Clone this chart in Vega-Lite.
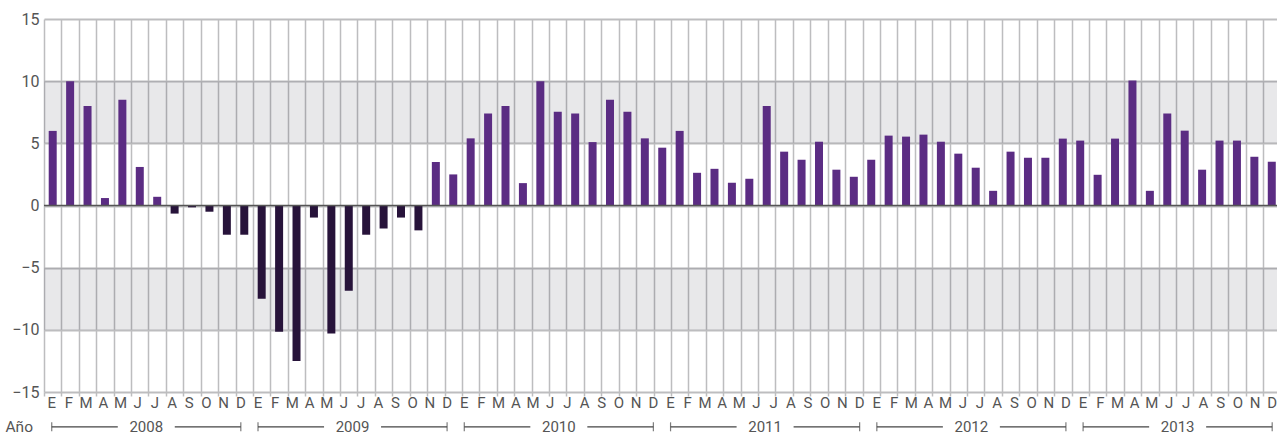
{
  "$schema": "https://vega.github.io/schema/vega-lite/v6.json",
  "autosize": {"type": "none"},
  "padding": {"left": 44, "top": 19, "right": 0, "bottom": 43},
  "width": 1233,
  "height": 373,
  "background": "white",
  "config": {
    "view": {"stroke": null},
    "font": "Roboto",
    "axis": {"labelFont": "Roboto", "titleFont": "Roboto"}
  },
  "layer": [
    {
      "data": {"values": [
        {"i": 0, "fecha": "2008-01", "v": 6.0}, {"i": 1, "fecha": "2008-02", "v": 10.0}, {"i": 2, "fecha": "2008-03", "v": 8.0},
        {"i": 3, "fecha": "2008-04", "v": 0.6}, {"i": 4, "fecha": "2008-05", "v": 8.5}, {"i": 5, "fecha": "2008-06", "v": 3.1},
        {"i": 6, "fecha": "2008-07", "v": 0.7}, {"i": 7, "fecha": "2008-08", "v": -0.65}, {"i": 8, "fecha": "2008-09", "v": -0.15},
        {"i": 9, "fecha": "2008-10", "v": -0.5}, {"i": 10, "fecha": "2008-11", "v": -2.35}, {"i": 11, "fecha": "2008-12", "v": -2.35},
        {"i": 12, "fecha": "2009-01", "v": -7.5}, {"i": 13, "fecha": "2009-02", "v": -10.15}, {"i": 14, "fecha": "2009-03", "v": -12.5},
        {"i": 15, "fecha": "2009-04", "v": -0.97}, {"i": 16, "fecha": "2009-05", "v": -10.3}, {"i": 17, "fecha": "2009-06", "v": -6.85},
        {"i": 18, "fecha": "2009-07", "v": -2.35}, {"i": 19, "fecha": "2009-08", "v": -1.85}, {"i": 20, "fecha": "2009-09", "v": -0.97},
        {"i": 21, "fecha": "2009-10", "v": -2.0}, {"i": 22, "fecha": "2009-11", "v": 3.5}, {"i": 23, "fecha": "2009-12", "v": 2.5},
        {"i": 24, "fecha": "2010-01", "v": 5.4}, {"i": 25, "fecha": "2010-02", "v": 7.4}, {"i": 26, "fecha": "2010-03", "v": 8.0},
        {"i": 27, "fecha": "2010-04", "v": 1.8}, {"i": 28, "fecha": "2010-05", "v": 10.0}, {"i": 29, "fecha": "2010-06", "v": 7.55},
        {"i": 30, "fecha": "2010-07", "v": 7.4}, {"i": 31, "fecha": "2010-08", "v": 5.1}, {"i": 32, "fecha": "2010-09", "v": 8.5},
        {"i": 33, "fecha": "2010-10", "v": 7.55}, {"i": 34, "fecha": "2010-11", "v": 5.4}, {"i": 35, "fecha": "2010-12", "v": 4.65},
        {"i": 36, "fecha": "2011-01", "v": 6.0}, {"i": 37, "fecha": "2011-02", "v": 2.63}, {"i": 38, "fecha": "2011-03", "v": 2.95},
        {"i": 39, "fecha": "2011-04", "v": 1.83}, {"i": 40, "fecha": "2011-05", "v": 2.15}, {"i": 41, "fecha": "2011-06", "v": 8.0},
        {"i": 42, "fecha": "2011-07", "v": 4.33}, {"i": 43, "fecha": "2011-08", "v": 3.68}, {"i": 44, "fecha": "2011-09", "v": 5.13},
        {"i": 45, "fecha": "2011-10", "v": 2.88}, {"i": 46, "fecha": "2011-11", "v": 2.31}, {"i": 47, "fecha": "2011-12", "v": 3.68},
        {"i": 48, "fecha": "2012-01", "v": 5.62}, {"i": 49, "fecha": "2012-02", "v": 5.54}, {"i": 50, "fecha": "2012-03", "v": 5.7},
        {"i": 51, "fecha": "2012-04", "v": 5.13}, {"i": 52, "fecha": "2012-05", "v": 4.17}, {"i": 53, "fecha": "2012-06", "v": 3.04},
        {"i": 54, "fecha": "2012-07", "v": 1.18}, {"i": 55, "fecha": "2012-08", "v": 4.33}, {"i": 56, "fecha": "2012-09", "v": 3.84},
        {"i": 57, "fecha": "2012-10", "v": 3.84}, {"i": 58, "fecha": "2012-11", "v": 5.38}, {"i": 59, "fecha": "2012-12", "v": 5.22},
        {"i": 60, "fecha": "2013-01", "v": 2.47}, {"i": 61, "fecha": "2013-02", "v": 5.38}, {"i": 62, "fecha": "2013-03", "v": 10.05},
        {"i": 63, "fecha": "2013-04", "v": 1.18}, {"i": 64, "fecha": "2013-05", "v": 7.39}, {"i": 65, "fecha": "2013-06", "v": 6.02},
        {"i": 66, "fecha": "2013-07", "v": 2.88}, {"i": 67, "fecha": "2013-08", "v": 5.22}, {"i": 68, "fecha": "2013-09", "v": 5.22},
        {"i": 69, "fecha": "2013-10", "v": 3.92}, {"i": 70, "fecha": "2013-11", "v": 3.52}
      ]},
      "layer": [
        {
          "data": {"values": [{}]},
          "mark": {"type": "rect", "fill": "#0a0f1e", "opacity": 0.095},
          "encoding": {"y": {"datum": 5, "type": "quantitative"}, "y2": {"datum": 10}}
        },
        {
          "data": {"values": [{}]},
          "mark": {"type": "rect", "fill": "#0a0f1e", "opacity": 0.095},
          "encoding": {"y": {"datum": -10, "type": "quantitative"}, "y2": {"datum": -5}}
        },
        {
          "mark": {"type": "bar", "width": 8},
          "encoding": {
            "x": {
              "field": "i", "type": "quantitative",
              "scale": {"domain": [-0.5, 70.3], "nice": false, "zero": false, "padding": 0},
              "axis": {
                "orient": "bottom", "title": null, "labels": false, "domain": false,
                "ticks": true, "tickSize": 4, "tickColor": "#bdbdbf", "tickWidth": 1.5,
                "grid": true, "gridColor": "#bdbdbf", "gridWidth": 1.5,
                "values": [-0.5,0.5,1.5,2.5,3.5,4.5,5.5,6.5,7.5,8.5,9.5,10.5,11.5,12.5,13.5,14.5,15.5,16.5,17.5,18.5,19.5,20.5,21.5,22.5,23.5,24.5,25.5,26.5,27.5,28.5,29.5,30.5,31.5,32.5,33.5,34.5,35.5,36.5,37.5,38.5,39.5,40.5,41.5,42.5,43.5,44.5,45.5,46.5,47.5,48.5,49.5,50.5,51.5,52.5,53.5,54.5,55.5,56.5,57.5,58.5,59.5,60.5,61.5,62.5,63.5,64.5,65.5,66.5,67.5,68.5,69.5]
              }
            },
            "y": {
              "field": "v", "type": "quantitative",
              "scale": {"domain": [-15, 15], "nice": false},
              "axis": {
                "title": null, "values": [-15,-10,-5,0,5,10,15],
                "labelFontSize": 16, "labelColor": "#555555", "labelPadding": 5,
                "ticks": false, "domain": false,
                "grid": true, "gridColor": "#bdbdbf", "gridWidth": 2
              }
            },
            "y2": {"datum": 0},
            "color": {"condition": {"test": "datum.v < 0", "value": "#27133a"}, "value": "#5b2c83"}
          }
        },
        {
          "data": {"values": [{}]},
          "mark": {"type": "rule", "color": "#555555", "strokeWidth": 1.5},
          "encoding": {"y": {"datum": 0, "type": "quantitative"}}
        }
      ]
    },
    {
      "data": {"values": [
        {"anio": "2008", "ini": 0, "fin": 11, "centro": 5.5},
        {"anio": "2009", "ini": 12, "fin": 23, "centro": 17.5},
        {"anio": "2010", "ini": 24, "fin": 35, "centro": 29.5},
        {"anio": "2011", "ini": 36, "fin": 47, "centro": 41.5},
        {"anio": "2012", "ini": 48, "fin": 59, "centro": 53.5},
        {"anio": "2013", "ini": 60, "fin": 71, "centro": 65.5}
      ]},
      "layer": [
        {
          "mark": {"type": "rule", "color": "#444444", "strokeWidth": 1.2},
          "encoding": {
            "x": {
              "field": "ini", "type": "quantitative",
              "scale": {"domain": [-0.45, 71.28], "nice": false, "zero": false, "padding": 0},
              "axis": {
                "orient": "bottom", "labels": false, "ticks": false, "domain": false, "grid": false,
                "title": "Año", "titleAngle": 0, "titleAlign": "left", "titleBaseline": "middle", "titleAnchor": "start",
                "titleX": -39, "titleY": 34.5, "titleFontSize": 15.5, "titleFontWeight": "normal", "titleColor": "#555555"
              }
            },
            "x2": {"field": "fin"},
            "y": {"datum": -17.8, "type": "quantitative"}
          }
        },
        {
          "mark": {"type": "bar", "width": 57, "color": "white"},
          "encoding": {
            "x": {"field": "centro", "type": "quantitative"},
            "y": {"datum": -17.3, "type": "quantitative"},
            "y2": {"datum": -18.3}
          }
        },
        {
          "mark": {"type": "tick", "orient": "vertical", "size": 9, "thickness": 1.2, "color": "#444444"},
          "encoding": {
            "x": {"field": "ini", "type": "quantitative"},
            "y": {"datum": -17.8, "type": "quantitative"}
          }
        },
        {
          "mark": {"type": "tick", "orient": "vertical", "size": 9, "thickness": 1.2, "color": "#444444"},
          "encoding": {
            "x": {"field": "fin", "type": "quantitative"},
            "y": {"datum": -17.8, "type": "quantitative"}
          }
        },
        {
          "mark": {"type": "text", "fontSize": 15, "color": "#555555", "baseline": "middle", "align": "center"},
          "encoding": {
            "x": {"field": "centro", "type": "quantitative"},
            "y": {"datum": -17.8, "type": "quantitative"},
            "text": {"field": "anio"}
          }
        },
        {
          "data": {"values": [
            {"n": 0, "mes": "E"}, {"n": 1, "mes": "F"}, {"n": 2, "mes": "M"}, {"n": 3, "mes": "A"}, {"n": 4, "mes": "M"}, {"n": 5, "mes": "J"},
            {"n": 6, "mes": "J"}, {"n": 7, "mes": "A"}, {"n": 8, "mes": "S"}, {"n": 9, "mes": "O"}, {"n": 10, "mes": "N"}, {"n": 11, "mes": "D"},
            {"n": 12, "mes": "E"}, {"n": 13, "mes": "F"}, {"n": 14, "mes": "M"}, {"n": 15, "mes": "A"}, {"n": 16, "mes": "M"}, {"n": 17, "mes": "J"},
            {"n": 18, "mes": "J"}, {"n": 19, "mes": "A"}, {"n": 20, "mes": "S"}, {"n": 21, "mes": "O"}, {"n": 22, "mes": "N"}, {"n": 23, "mes": "D"},
            {"n": 24, "mes": "E"}, {"n": 25, "mes": "F"}, {"n": 26, "mes": "M"}, {"n": 27, "mes": "A"}, {"n": 28, "mes": "M"}, {"n": 29, "mes": "J"},
            {"n": 30, "mes": "J"}, {"n": 31, "mes": "A"}, {"n": 32, "mes": "S"}, {"n": 33, "mes": "O"}, {"n": 34, "mes": "N"}, {"n": 35, "mes": "D"},
            {"n": 36, "mes": "E"}, {"n": 37, "mes": "F"}, {"n": 38, "mes": "M"}, {"n": 39, "mes": "A"}, {"n": 40, "mes": "M"}, {"n": 41, "mes": "J"},
            {"n": 42, "mes": "J"}, {"n": 43, "mes": "A"}, {"n": 44, "mes": "S"}, {"n": 45, "mes": "O"}, {"n": 46, "mes": "N"}, {"n": 47, "mes": "D"},
            {"n": 48, "mes": "E"}, {"n": 49, "mes": "F"}, {"n": 50, "mes": "M"}, {"n": 51, "mes": "A"}, {"n": 52, "mes": "M"}, {"n": 53, "mes": "J"},
            {"n": 54, "mes": "J"}, {"n": 55, "mes": "A"}, {"n": 56, "mes": "S"}, {"n": 57, "mes": "O"}, {"n": 58, "mes": "N"}, {"n": 59, "mes": "D"},
            {"n": 60, "mes": "E"}, {"n": 61, "mes": "F"}, {"n": 62, "mes": "M"}, {"n": 63, "mes": "A"}, {"n": 64, "mes": "M"}, {"n": 65, "mes": "J"},
            {"n": 66, "mes": "J"}, {"n": 67, "mes": "A"}, {"n": 68, "mes": "S"}, {"n": 69, "mes": "O"}, {"n": 70, "mes": "N"}, {"n": 71, "mes": "D"}
          ]},
          "mark": {"type": "text", "fontSize": 15, "color": "#555555", "baseline": "middle", "align": "center"},
          "encoding": {
            "x": {"field": "n", "type": "quantitative"},
            "y": {"datum": -15.9, "type": "quantitative"},
            "text": {"field": "mes"}
          }
        }
      ]
    }
  ],
  "resolve": {"scale": {"x": "independent"}, "axis": {"x": "independent"}}
}
